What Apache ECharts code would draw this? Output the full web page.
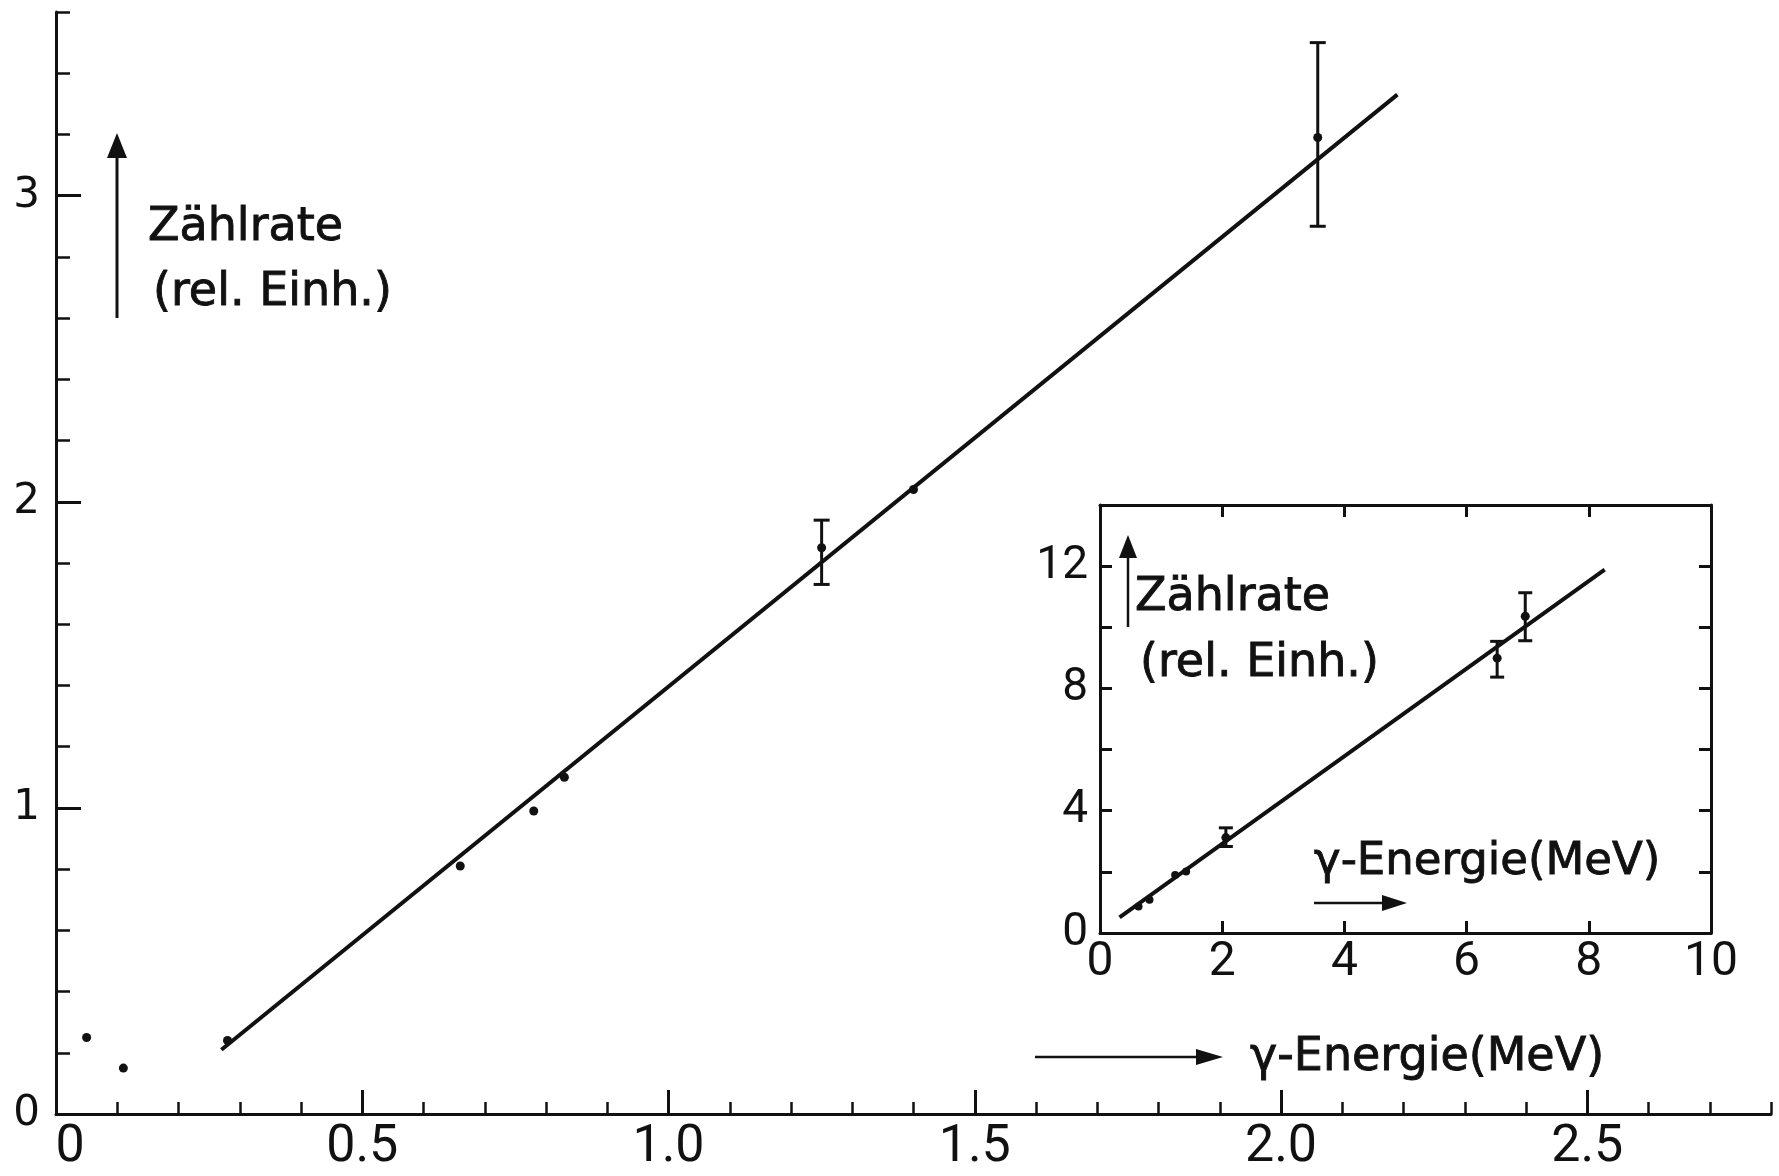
<!DOCTYPE html>
<html>
<head>
<meta charset="utf-8">
<script src="https://cdn.jsdelivr.net/npm/echarts@6/dist/echarts.min.js"></script>
<style>
html,body{margin:0;padding:0;background:#fff;}
#chart{width:1779px;height:1176px;}
</style>
</head>
<body>
<div id="chart"></div>
<script>
// ---- main plot data ----
var mainX = [0.05, 0.11, 0.28, 0.66, 0.78, 0.83, 1.40];
var mainY = [0.25, 0.15, 0.24, 0.81, 0.99, 1.10, 2.04];
var mainErrX = [1.25, 2.06];
var mainErrY = [1.85, 3.19];
var mainErrLow = [1.73, 2.90];
var mainErrHigh = [1.94, 3.50];
var mainFitX = [0.27, 2.19];
var mainFitY = [0.21, 3.33];
var mainXTicks = [0, 0.5, 1.0, 1.5, 2.0, 2.5];
var mainXTickLabels = ['0', '0.5', '1.0', '1.5', '2.0', '2.5'];
var mainYTicks = [0, 1, 2, 3];
var mainYTickLabels = ['0', '1', '2', '3'];

// ---- inset data ----
var insetX = [0.63, 0.81, 1.23, 1.41];
var insetY = [0.87, 1.09, 1.90, 2.01];
var insetErrX = [2.06, 6.50, 6.96];
var insetErrY = [3.12, 8.99, 10.36];
var insetErrLow = [2.83, 8.37, 9.56];
var insetErrHigh = [3.44, 9.54, 11.13];
var insetFitX = [0.32, 8.26];
var insetFitY = [0.51, 11.89];
var insetXTicks = [0, 2, 4, 6, 8, 10];
var insetXTickLabels = ['0', '2', '4', '6', '8', '10'];
var insetYTicks = [0, 4, 8, 12];
var insetYTickLabels = ['0', '4', '8', '12'];

var INK = '#111';

function zip(a, b) { return a.map(function (v, i) { return [v, b[i]]; }); }
function zipErr(x, y, lo, hi) { return x.map(function (v, i) { return [v, y[i], lo[i], hi[i]]; }); }
function labelFor(ticks, labels) {
  return function (v) {
    for (var i = 0; i < ticks.length; i++) if (Math.abs(ticks[i] - v) < 1e-9) return labels[i];
    return '';
  };
}
function errRender(cap) {
  return function (params, api) {
    var x = api.value(0);
    var lo = api.coord([x, api.value(2)]);
    var hi = api.coord([x, api.value(3)]);
    var st = { stroke: INK, lineWidth: 3 };
    return {
      type: 'group',
      children: [
        { type: 'line', shape: { x1: lo[0], y1: lo[1], x2: hi[0], y2: hi[1] }, style: st },
        { type: 'line', shape: { x1: lo[0] - cap, y1: lo[1], x2: lo[0] + cap, y2: lo[1] }, style: st },
        { type: 'line', shape: { x1: hi[0] - cap, y1: hi[1], x2: hi[0] + cap, y2: hi[1] }, style: st }
      ]
    };
  };
}

var axisLineStyle = { color: INK, width: 3 };
var narrow = 'Roboto, sans-serif';
var sans = 'DejaVu Sans, sans-serif';

function titleText(x, y, t, size) {
  return { type: 'text', x: x, y: y, style: { text: t, fontSize: size, fontFamily: sans, fill: INK,
    stroke: INK, lineWidth: 0.9, verticalAlign: 'middle', align: 'left' } };
}

var option = {
  backgroundColor: '#fff',
  animation: false,
  grid: [
    { left: 56, top: 12, width: 1715, height: 1102, containLabel: false },
    { left: 1100, top: 505, width: 611, height: 428, containLabel: false }
  ],
  xAxis: [
    {
      gridIndex: 0, type: 'value', min: 0, max: 2.8, position: 'bottom',
      axisLine: { show: true, onZero: false, lineStyle: axisLineStyle },
      axisTick: { show: true, inside: true, length: 24, customValues: mainXTicks, lineStyle: { color: INK, width: 3 } },
      axisLabel: {
        show: true, customValues: mainXTicks, margin: 8,
        formatter: function (v) {
          var s = labelFor(mainXTicks, mainXTickLabels)(v);
          return v === 0 ? '{z|' + s + '}' : s;
        },
        rich: { z: { padding: [0, 0, 0, 28], fontSize: 52, fontFamily: narrow, color: INK } },
        fontSize: 52, fontFamily: narrow, color: INK
      },
      splitLine: { show: false }
    },
    {
      gridIndex: 0, type: 'value', min: 0, max: 2.8, interval: 0.1, position: 'bottom',
      axisLine: { show: false, onZero: false },
      axisTick: { show: true, inside: true, length: 12, lineStyle: { color: INK, width: 2.5 } },
      axisLabel: { show: false },
      splitLine: { show: false }
    },
    {
      gridIndex: 1, type: 'value', min: 0, max: 10, interval: 2, position: 'bottom',
      axisLine: { show: true, onZero: false, lineStyle: axisLineStyle },
      axisTick: { show: true, inside: true, length: 12, lineStyle: { color: INK, width: 3 } },
      axisLabel: {
        show: true, customValues: insetXTicks, margin: 6,
        formatter: labelFor(insetXTicks, insetXTickLabels),
        fontSize: 48, fontFamily: narrow, color: INK
      },
      splitLine: { show: false }
    },
    {
      gridIndex: 1, type: 'value', min: 0, max: 10, interval: 2, position: 'top',
      axisLine: { show: true, onZero: false, lineStyle: axisLineStyle },
      axisTick: { show: true, inside: true, length: 12, lineStyle: { color: INK, width: 3 } },
      axisLabel: { show: false },
      splitLine: { show: false }
    }
  ],
  yAxis: [
    {
      gridIndex: 0, type: 'value', min: 0, max: 3.6, position: 'left',
      axisLine: { show: true, onZero: false, lineStyle: axisLineStyle },
      axisTick: { show: true, inside: true, length: 25, customValues: mainYTicks, lineStyle: { color: INK, width: 3 } },
      axisLabel: {
        show: true, customValues: mainYTicks, margin: 16,
        formatter: labelFor(mainYTicks, mainYTickLabels),
        fontSize: 42, fontFamily: sans, color: INK
      },
      splitLine: { show: false }
    },
    {
      gridIndex: 0, type: 'value', min: 0, max: 3.6, interval: 0.2, position: 'left',
      axisLine: { show: false, onZero: false },
      axisTick: { show: true, inside: true, length: 14, lineStyle: { color: INK, width: 2.5 } },
      axisLabel: { show: false },
      splitLine: { show: false }
    },
    {
      gridIndex: 1, type: 'value', min: 0, max: 14, interval: 2, position: 'left',
      axisLine: { show: true, onZero: false, lineStyle: axisLineStyle },
      axisTick: { show: true, inside: true, length: 12, lineStyle: { color: INK, width: 3 } },
      axisLabel: {
        show: true, customValues: insetYTicks, margin: 12,
        formatter: labelFor(insetYTicks, insetYTickLabels),
        fontSize: 46, fontFamily: narrow, color: INK
      },
      splitLine: { show: false }
    },
    {
      gridIndex: 1, type: 'value', min: 0, max: 14, interval: 2, position: 'right',
      axisLine: { show: true, onZero: false, lineStyle: axisLineStyle },
      axisTick: { show: true, inside: true, length: 12, lineStyle: { color: INK, width: 3 } },
      axisLabel: { show: false },
      splitLine: { show: false }
    }
  ],
  series: [
    { type: 'line', xAxisIndex: 0, yAxisIndex: 0, data: zip(mainFitX, mainFitY), showSymbol: false,
      lineStyle: { color: INK, width: 4 }, silent: true },
    { type: 'custom', xAxisIndex: 0, yAxisIndex: 0, data: zipErr(mainErrX, mainErrY, mainErrLow, mainErrHigh),
      renderItem: errRender(8), encode: { x: 0, y: [1, 2, 3] } },
    { type: 'scatter', xAxisIndex: 0, yAxisIndex: 0, data: zip(mainX, mainY), symbolSize: 9,
      itemStyle: { color: INK, opacity: 1 } },
    { type: 'scatter', xAxisIndex: 0, yAxisIndex: 0, data: zip(mainErrX, mainErrY), symbolSize: 9,
      itemStyle: { color: INK, opacity: 1 } },

    { type: 'line', xAxisIndex: 2, yAxisIndex: 2, data: zip(insetFitX, insetFitY), showSymbol: false,
      lineStyle: { color: INK, width: 4 }, silent: true },
    { type: 'custom', xAxisIndex: 2, yAxisIndex: 2, data: zipErr(insetErrX, insetErrY, insetErrLow, insetErrHigh),
      renderItem: errRender(7), encode: { x: 0, y: [1, 2, 3] } },
    { type: 'scatter', xAxisIndex: 2, yAxisIndex: 2, data: zip(insetX, insetY), symbolSize: 8,
      itemStyle: { color: INK, opacity: 1 } },
    { type: 'scatter', xAxisIndex: 2, yAxisIndex: 2, data: zip(insetErrX, insetErrY), symbolSize: 9,
      itemStyle: { color: INK, opacity: 1 } }
  ],
  graphic: [
    // main axis titles
    { type: 'line', shape: { x1: 117, y1: 318, x2: 117, y2: 150 }, style: { stroke: INK, lineWidth: 3 } },
    { type: 'polygon', shape: { points: [[117, 133], [107, 158], [127, 158]] }, style: { fill: INK } },
    titleText(148, 228, 'Zählrate', 46),
    titleText(153, 293, '(rel. Einh.)', 46),
    { type: 'line', shape: { x1: 1035, y1: 1057, x2: 1200, y2: 1057 }, style: { stroke: INK, lineWidth: 2.5 } },
    { type: 'polygon', shape: { points: [[1223, 1057], [1196, 1049], [1196, 1065]] }, style: { fill: INK } },
    titleText(1250, 1058, 'γ-Energie(MeV)', 46),
    // inset axis titles
    { type: 'line', shape: { x1: 1128, y1: 627, x2: 1128, y2: 552 }, style: { stroke: INK, lineWidth: 2.5 } },
    { type: 'polygon', shape: { points: [[1128, 535], [1119, 558], [1137, 558]] }, style: { fill: INK } },
    titleText(1135, 598, 'Zählrate', 46),
    titleText(1140, 664, '(rel. Einh.)', 46),
    titleText(1314, 862, 'γ-Energie(MeV)', 45),
    { type: 'line', shape: { x1: 1314, y1: 903, x2: 1385, y2: 903 }, style: { stroke: INK, lineWidth: 2.5 } },
    { type: 'polygon', shape: { points: [[1407, 903], [1382, 895], [1382, 911]] }, style: { fill: INK } }
  ]
};

var chart = echarts.init(document.getElementById('chart'), null, { renderer: 'canvas' });
chart.setOption(option);
</script>
</body>
</html>
